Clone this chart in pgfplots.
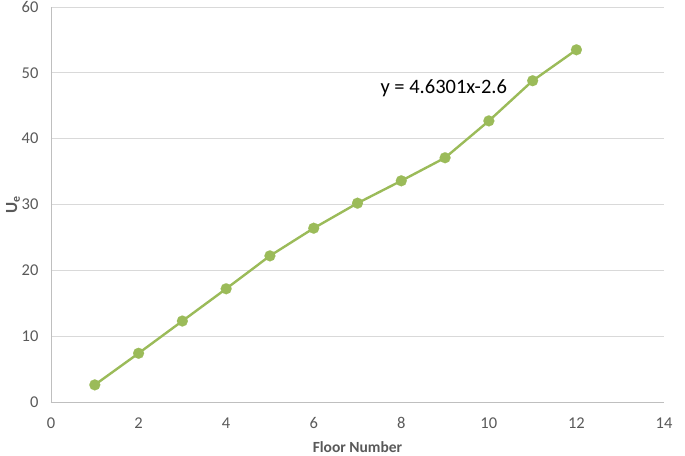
\documentclass[border=0pt]{standalone}
\usepackage{pgfplots}
\pgfplotsset{compat=1.18}
\usepackage{fontspec}
\setmainfont{Carlito}
\definecolor{exgreen}{HTML}{9BBB59}
\definecolor{ticktext}{HTML}{595959}
\definecolor{gridc}{HTML}{D9D9D9}
\definecolor{axc}{HTML}{BFBFBF}
\begin{document}
\begin{tikzpicture}[x=1pt,y=1pt]
\begin{axis}[
  name=ax,
  scale only axis,
  width=613pt, height=395pt,
  xmin=0, xmax=14, ymin=0, ymax=60,
  xtick={0,2,...,14}, ytick={0,10,...,60},
  axis x line*=bottom, axis y line*=left,
  axis line style={axc, line width=0.9pt, -},
  ymajorgrids, grid style={gridc, line width=0.9pt},
  major tick length=0pt,
  tick label style={ticktext, font=\fontsize{16.5}{19}\selectfont},
  /pgf/number format/assume math mode=true,
  xticklabel style={yshift=-12pt},
  yticklabel style={xshift=-9pt},
  xlabel={\textbf{Floor Number}},
  ylabel={\textbf{U\textsubscript{e}}},
  xlabel style={ticktext, font=\fontsize{15.5}{17}\selectfont, yshift=-6pt},
  ylabel style={ticktext, font=\fontsize{17}{19}\selectfont, yshift=-5pt},
  clip=false,
]
\addplot[exgreen, line width=2.4pt, mark=*, mark size=5.5pt, mark options={fill=exgreen, draw=exgreen, line width=0.1pt}] coordinates {
(1,2.6) (2,7.4) (3,12.3) (4,17.2) (5,22.2) (6,26.4) (7,30.2) (8,33.6) (9,37.1) (10,42.7) (11,48.8) (12,53.5)
};
\node[font=\fontsize{20.5}{22}\selectfont, text=black] at (axis cs:8.97,47.6) {y = 4.6301x-2.6};
\end{axis}
\pgfresetboundingbox
\path ([shift={(-51pt,-54pt)}]ax.south west) rectangle ([shift={(21pt,7pt)}]ax.north east);
\end{tikzpicture}
\end{document}
